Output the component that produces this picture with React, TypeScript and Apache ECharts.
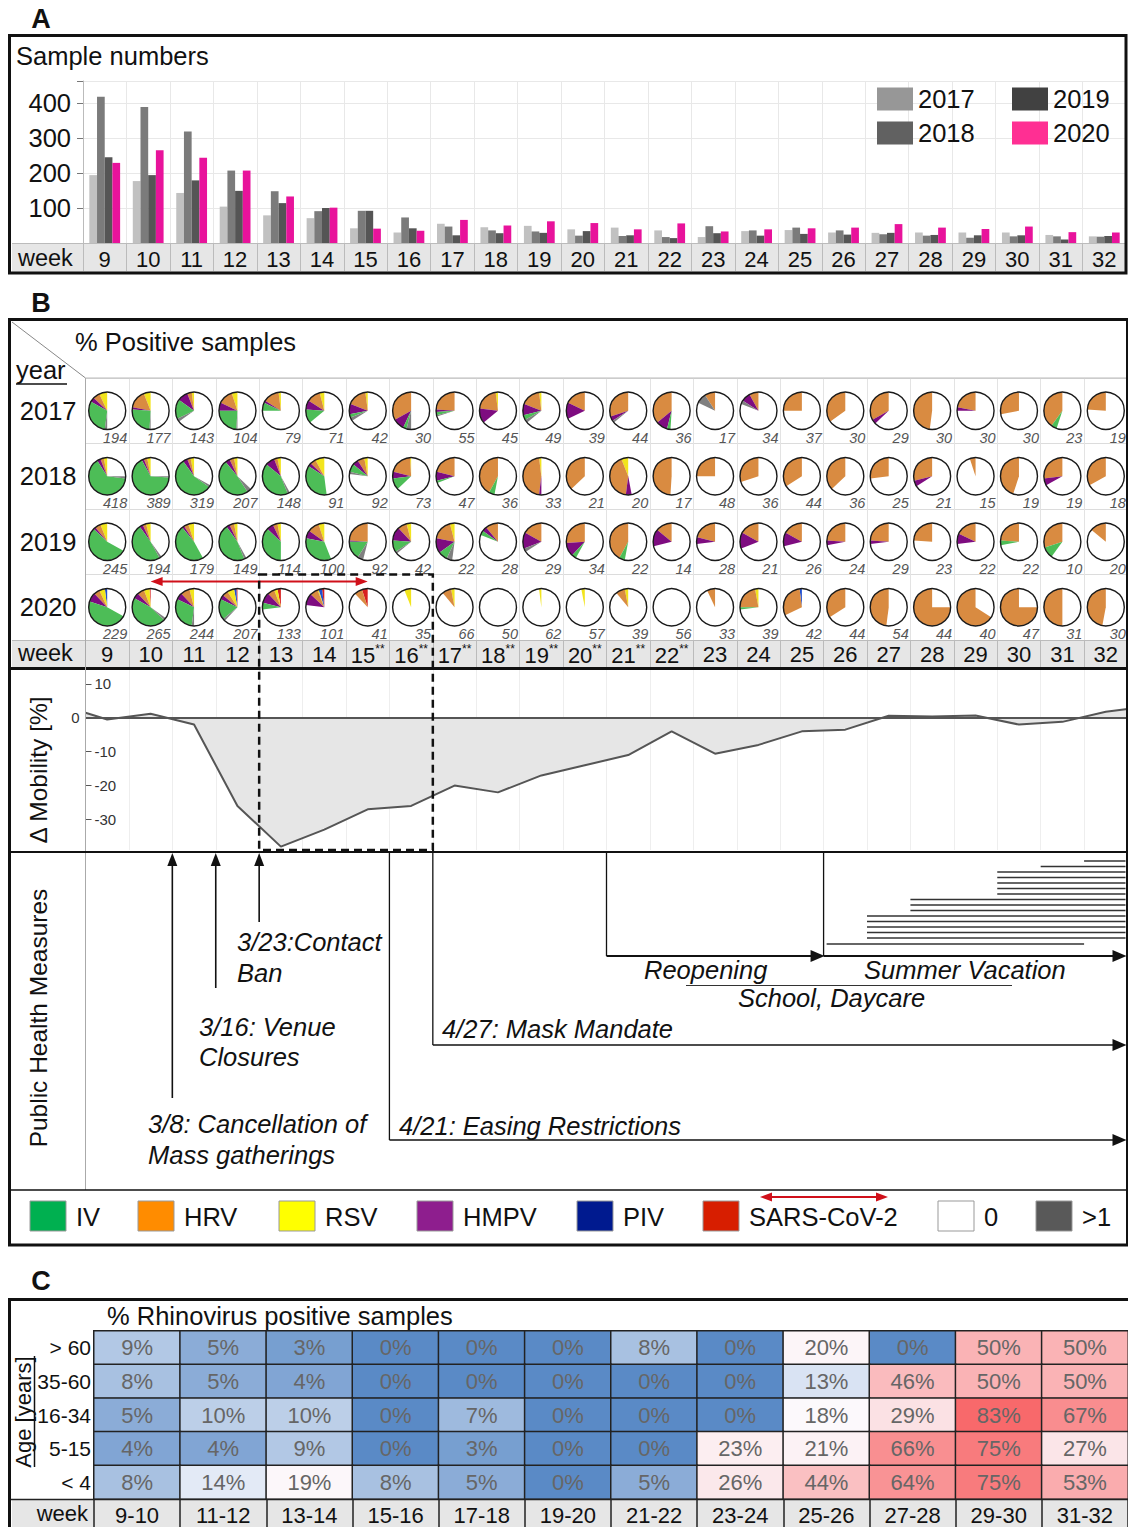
import React, { useEffect, useRef } from "react";
import * as echarts from "echarts";

const FONT = '"Liberation Sans", Arial, Helvetica, sans-serif';
const FONT_NARROW = '"Liberation Sans Narrow", "Liberation Sans", Arial, sans-serif';

// ---------- Panel A / B : weeks, years, sample numbers ----------
const WEEKS = ["9", "10", "11", "12", "13", "14", "15", "16", "17", "18", "19", "20", "21", "22", "23", "24", "25", "26", "27", "28", "29", "30", "31", "32"];
const STARRED_WEEKS = ["15", "16", "17", "18", "19", "20", "21", "22"];
const YEARS = ["2017", "2018", "2019", "2020"];

const SAMPLES_2017 = [194, 177, 143, 104, 79, 71, 42, 30, 55, 45, 49, 39, 44, 36, 17, 34, 37, 30, 29, 30, 30, 30, 23, 19];
const SAMPLES_2018 = [418, 389, 319, 207, 148, 91, 92, 73, 47, 36, 33, 21, 20, 17, 48, 36, 44, 36, 25, 21, 15, 19, 19, 18];
const SAMPLES_2019 = [245, 194, 179, 149, 114, 100, 92, 42, 22, 28, 29, 34, 22, 14, 28, 21, 26, 24, 29, 23, 22, 22, 10, 20];
const SAMPLES_2020 = [229, 265, 244, 207, 133, 101, 41, 35, 66, 50, 62, 57, 39, 56, 33, 39, 42, 44, 54, 44, 40, 47, 31, 30];
const SAMPLES = [SAMPLES_2017, SAMPLES_2018, SAMPLES_2019, SAMPLES_2020];

const BAR_COLORS = ["#c1c1c1", "#7b7b7b", "#555555", "#e8139b"];
const BAR_LEGEND_COLORS = ["#979797", "#616161", "#414141", "#ff2f93"];

// ---------- Panel B : % positive per pathogen (rows: 2017, 2018, 2019, 2020) ----------
const SHARE_SARS = [
  [0, 0, 0, 0, 0, 0, 0, 0, 0, 0, 0, 0, 0, 0, 0, 0, 0, 0, 0, 0, 0, 0, 0, 0],
  [0, 0, 0, 0, 0, 0, 0, 0, 0, 0, 0, 0, 0, 0, 0, 0, 0, 0, 0, 0, 0, 0, 0, 0],
  [0, 0, 0, 0, 0, 0, 0, 0, 0, 0, 0, 0, 0, 0, 0, 0, 0, 0, 0, 0, 0, 0, 0, 0],
  [0, 1, 0, 1, 3, 2, 5, 0, 0, 0, 0, 0, 0, 0, 0, 0, 0, 0, 0, 0, 0, 0, 0, 0],
];
const SHARE_PIV = [
  [0, 0, 0, 0, 0, 0, 0, 0, 0, 0, 0, 0, 0, 0, 0, 0, 0, 0, 0, 0, 0, 0, 0, 0],
  [0, 0, 0, 0, 0, 0, 0, 0, 0, 0, 0, 0, 0, 0, 0, 0, 0, 0, 0, 0, 0, 0, 0, 0],
  [0, 0, 0, 0, 0, 0, 0, 0, 0, 0, 0, 0, 0, 0, 0, 0, 0, 0, 0, 0, 0, 0, 0, 0],
  [2, 0, 0, 2, 0, 3, 0, 0, 0, 0, 0, 0, 0, 0, 0, 0, 2, 0, 0, 0, 0, 0, 0, 0],
];
const SHARE_RSV = [
  [7, 6, 2, 5, 2, 4, 2, 0, 0, 2, 2, 0, 0, 0, 0, 0, 0, 0, 0, 0, 0, 0, 0, 0],
  [3, 3, 3, 3, 3, 8, 3, 1, 0, 0, 2, 0, 6, 0, 0, 0, 0, 0, 0, 0, 0, 0, 0, 0],
  [6, 4, 5, 3, 3, 5, 0, 4, 4, 0, 0, 0, 0, 0, 0, 0, 0, 0, 0, 0, 0, 0, 0, 0],
  [5, 5, 4, 6, 3, 1, 0, 6, 3, 0, 2, 3, 3, 0, 0, 3, 0, 0, 0, 0, 0, 0, 0, 0],
];
const SHARE_HRV = [
  [6, 16, 4, 13, 14, 12, 17, 33, 24, 21, 17, 18, 30, 36, 9, 8, 25, 35, 33, 48, 22, 28, 40, 24],
  [3, 3, 3, 4, 3, 5, 6, 20, 21, 42, 46, 37, 42, 49, 25, 30, 34, 37, 27, 29, 5, 45, 27, 33],
  [5, 3, 4, 4, 4, 10, 24, 8, 18, 11, 17, 26, 42, 14, 21, 17, 17, 24, 24, 24, 18, 24, 30, 14],
  [5, 6, 8, 5, 6, 7, 7, 0, 8, 0, 0, 0, 8, 0, 7, 22, 30, 34, 48, 75, 66, 75, 50, 47],
];
const SHARE_HMPV = [
  [4, 2, 9, 7, 2, 8, 9, 10, 2, 13, 10, 14, 4, 10, 0, 8, 0, 0, 4, 0, 3, 0, 0, 0],
  [3, 2, 4, 4, 8, 3, 5, 6, 8, 0, 2, 0, 5, 0, 0, 0, 0, 0, 0, 5, 0, 0, 6, 0],
  [2, 3, 2, 3, 6, 7, 1, 12, 13, 4, 14, 12, 0, 15, 6, 14, 12, 4, 3, 0, 9, 0, 0, 0],
  [8, 5, 6, 4, 9, 10, 0, 0, 0, 0, 0, 0, 0, 0, 0, 0, 0, 0, 0, 0, 0, 0, 0, 0],
];
const SHARE_IV = [
  [31, 25, 17, 24, 7, 12, 3, 3, 3, 0, 4, 0, 0, 3, 0, 0, 0, 0, 0, 0, 0, 0, 5, 0],
  [64, 66, 55, 48, 42, 36, 7, 10, 2, 5, 0, 0, 0, 0, 0, 0, 0, 0, 0, 0, 0, 0, 0, 0],
  [54, 48, 47, 46, 37, 34, 16, 10, 8, 4, 0, 4, 5, 0, 0, 0, 0, 0, 0, 0, 0, 4, 10, 0],
  [47, 46, 30, 18, 6, 0, 0, 0, 0, 0, 0, 0, 0, 0, 0, 2, 0, 0, 0, 0, 0, 0, 0, 0],
];
const SHARE_MULTI = [
  [2, 1, 3, 1, 0, 0, 3, 4, 1, 0, 3, 0, 2, 0, 9, 3, 0, 0, 0, 0, 0, 0, 0, 0],
  [2, 1, 2, 4, 2, 0, 2, 0, 0, 0, 0, 0, 0, 0, 0, 0, 0, 0, 0, 0, 0, 0, 0, 0],
  [0, 2, 0, 2, 0, 0, 5, 2, 5, 0, 3, 0, 0, 0, 0, 0, 0, 0, 0, 0, 0, 0, 0, 0],
  [0, 2, 2, 2, 0, 0, 0, 0, 0, 0, 0, 0, 0, 0, 0, 0, 0, 0, 0, 0, 0, 0, 0, 0],
];

// order of slices, counter-clockwise from 12 o'clock
const PIE_ORDER = [
  { name: "SARS-CoV-2", color: "#d82020", share: SHARE_SARS },
  { name: "PIV", color: "#1f4fd0", share: SHARE_PIV },
  { name: "RSV", color: "#f2e41c", share: SHARE_RSV },
  { name: "HRV", color: "#d98b41", share: SHARE_HRV },
  { name: "HMPV", color: "#7e0c80", share: SHARE_HMPV },
  { name: "IV", color: "#4dbd57", share: SHARE_IV },
  { name: ">1", color: "#808080", share: SHARE_MULTI },
];

const LEGEND_NAMES = ["IV", "HRV", "RSV", "HMPV", "PIV", "SARS-CoV-2", "0", ">1"];
const LEGEND_COLORS = ["#00b050", "#ff8c00", "#ffff00", "#8e1e8e", "#001a8f", "#d71e00", "#ffffff", "#595959"];
const LEGEND_X = [30, 138, 279, 417, 577, 703, 938, 1036];

// ---------- Mobility ----------
const MOBILITY_WEEK = [8.5, 9, 10, 11, 12, 13, 14, 15, 16, 17, 18, 19, 20, 21, 22, 23, 24, 25, 26, 27, 28, 29, 30, 31, 32, 32.5];
const MOBILITY_CHANGE = [1.5, -0.5, 1.2, -2, -26, -38, -33, -27, -26, -20, -22, -17, -14, -11, -4, -10.6, -8, -4, -3.5, 0.6, 0.4, 0.7, -2, -1.2, 1.8, 2.6];

// ---------- Public health measures (in week units) ----------
const EVENT_CANCELLATION = 10.5;
const EVENT_VENUES = 11.5;
const EVENT_CONTACT = 12.5;
const EVENT_EASING = 15.5;
const EVENT_MASK = 16.5;
const EVENT_REOPENING = 20.5;
const EVENT_SUMMER = 25.5;
const EVENT_END = 32.5;
const VACATION_START = [31.5, 30.5, 29.5, 29.5, 29.5, 29.5, 29.5, 27.5, 27.5, 27.5, 26.5, 26.5, 26.5, 26.5, 26.5, 25.57];
const VACATION_END = [32.5, 32.5, 32.5, 32.5, 32.5, 32.5, 32.5, 32.5, 32.5, 32.5, 32.5, 32.5, 32.5, 32.5, 32.5, 31.5];

// ---------- Panel C ----------
const WEEK_PAIRS = ["9-10", "11-12", "13-14", "15-16", "17-18", "19-20", "21-22", "23-24", "25-26", "27-28", "29-30", "31-32"];
const AGE_GROUPS = ["> 60", "35-60", "16-34", "5-15", "< 4"];
const HRV_AGE_GT60 = [9, 5, 3, 0, 0, 0, 8, 0, 20, 0, 50, 50];
const HRV_AGE_35_60 = [8, 5, 4, 0, 0, 0, 0, 0, 13, 46, 50, 50];
const HRV_AGE_16_34 = [5, 10, 10, 0, 7, 0, 0, 0, 18, 29, 83, 67];
const HRV_AGE_5_15 = [4, 4, 9, 0, 3, 0, 0, 23, 21, 66, 75, 27];
const HRV_AGE_LT4 = [8, 14, 19, 8, 5, 0, 5, 26, 44, 64, 75, 53];
const HRV_BY_AGE = [HRV_AGE_GT60, HRV_AGE_35_60, HRV_AGE_16_34, HRV_AGE_5_15, HRV_AGE_LT4];
const HEAT_COLORS = ["#5a8ac6", "#fcfcff", "#fbd8db", "#fab3b5", "#f98e90", "#f8696b"];

// ---------- layout ----------
const A_GRID = { left: 83, top: 81, width: 1043, height: 162 };
const B_GRID = { left: 85.5, top: 378, width: 1042, height: 262 };
const M_GRID = { left: 85.5, top: 670, width: 1042, height: 180 };
const C_GRID = { left: 94, top: 1331, width: 1037, height: 168 };
const PIE_R = 18.5;

function buildOption(): any {
  const barSeries = YEARS.map((y, i) => ({
    name: y,
    type: "bar",
    xAxisIndex: 0,
    yAxisIndex: 0,
    data: SAMPLES[i],
    barWidth: 7.7,
    barGap: "0%",
    itemStyle: { color: BAR_COLORS[i] },
  }));

  const pieData: number[][] = [];
  for (let yi = 0; yi < YEARS.length; yi++) {
    for (let wi = 0; wi < WEEKS.length; wi++) {
      pieData.push([wi, yi, SAMPLES[yi][wi], ...PIE_ORDER.map((v) => v.share[yi][wi])]);
    }
  }

  const heatData: number[][] = [];
  HRV_BY_AGE.forEach((row, r) => row.forEach((v, c) => heatData.push([c, r, v])));

  const pieSeries = {
    type: "custom",
    xAxisIndex: 1,
    yAxisIndex: 1,
    encode: { x: 0, y: 1 },
    data: pieData,
    renderItem: (params: any, api: any) => {
      const c = api.coord([api.value(0), api.value(1)]);
      const cx = c[0];
      const cy = c[1];
      const children: any[] = [
        { type: "circle", shape: { cx, cy, r: PIE_R }, style: { fill: "#ffffff" } },
      ];
      let cum = 0;
      PIE_ORDER.forEach((v, k) => {
        const f = api.value(3 + k) / 100;
        if (f > 0) {
          const a1 = -Math.PI / 2 - cum * 2 * Math.PI;
          const a0 = -Math.PI / 2 - (cum + f) * 2 * Math.PI;
          children.push({
            type: "sector",
            shape: { cx, cy, r: PIE_R, r0: 0, startAngle: a0, endAngle: a1, clockwise: true },
            style: { fill: v.color },
          });
          cum += f;
        }
      });
      children.push({
        type: "circle",
        shape: { cx, cy, r: PIE_R },
        style: { fill: "none", stroke: "#1a1a1a", lineWidth: 1.4 },
      });
      children.push({
        type: "text",
        style: {
          text: String(api.value(2)),
          x: cx + 20,
          y: cy + 27,
          align: "right",
          verticalAlign: "middle",
          fontSize: 14.5,
          fontStyle: "italic",
          fontFamily: FONT,
          fill: "#555555",
        },
      });
      return { type: "group", children };
    },
  };

  const legendCommon = {
    orient: "vertical",
    top: 81,
    padding: 5,
    itemWidth: 36,
    itemHeight: 23,
    itemGap: 8,
    icon: "rect",
    selectedMode: false,
    textStyle: { fontSize: 25.5, color: "#111", fontFamily: FONT },
  };

  return {
    animation: false,
    textStyle: { fontFamily: FONT },
    grid: [
      { ...A_GRID, containLabel: false },
      { ...B_GRID, containLabel: false },
      { ...M_GRID, containLabel: false },
      { ...C_GRID, containLabel: false },
    ],
    legend: [
      {
        ...legendCommon,
        left: 872,
        data: [
          { name: "2017", itemStyle: { color: BAR_LEGEND_COLORS[0] } },
          { name: "2018", itemStyle: { color: BAR_LEGEND_COLORS[1] } },
        ],
      },
      {
        ...legendCommon,
        left: 1007,
        data: [
          { name: "2019", itemStyle: { color: BAR_LEGEND_COLORS[2] } },
          { name: "2020", itemStyle: { color: BAR_LEGEND_COLORS[3] } },
        ],
      },
    ],
    xAxis: [
      {
        gridIndex: 0,
        type: "category",
        data: WEEKS,
        axisLine: { lineStyle: { color: "#bbbbbb" } },
        axisTick: { show: true, length: 28, interval: 0, lineStyle: { color: "#bbbbbb" } },
        axisLabel: { interval: 0, fontSize: 22, color: "#111", margin: 5, fontFamily: FONT },
        splitLine: { show: true, interval: 0, lineStyle: { color: "#e8e8e8" } },
      },
      {
        gridIndex: 1,
        type: "category",
        data: WEEKS,
        axisLine: { lineStyle: { color: "#bbbbbb" } },
        axisTick: { show: true, length: 27, interval: 0, lineStyle: { color: "#bbbbbb" } },
        axisLabel: {
          interval: 0,
          margin: 3,
          formatter: (v: string) => (STARRED_WEEKS.includes(v) ? `{n|${v}}{s|**}` : `{n|${v}}`),
          rich: {
            n: { fontSize: 22, color: "#111", fontFamily: FONT },
            s: { fontSize: 12, color: "#111", fontFamily: FONT, padding: [0, 0, 12, 0] },
          },
        },
        splitLine: { show: true, interval: 0, lineStyle: { color: "#e3e3e3" } },
      },
      {
        gridIndex: 2,
        type: "category",
        data: WEEKS,
        axisLine: { show: false },
        axisTick: { show: false },
        axisLabel: { show: false },
        splitLine: { show: true, interval: 0, lineStyle: { color: "#eeeeee" } },
      },
      { gridIndex: 2, type: "value", min: 8.5, max: 32.5, show: false },
      {
        gridIndex: 3,
        type: "category",
        data: WEEK_PAIRS,
        axisLine: { lineStyle: { color: "#222", width: 1.5 } },
        axisTick: { show: true, length: 28, interval: 0, lineStyle: { color: "#222", width: 1.5 } },
        axisLabel: { interval: 0, fontSize: 22, color: "#111", margin: 5, fontFamily: FONT },
        splitLine: { show: false },
      },
    ],
    yAxis: [
      {
        gridIndex: 0,
        type: "value",
        min: 0,
        max: 463,
        interval: 100,
        axisLine: { show: true, lineStyle: { color: "#bbbbbb" } },
        axisTick: { show: true, length: 6, lineStyle: { color: "#777" } },
        axisLabel: {
          fontSize: 25.5,
          color: "#111",
          margin: 12,
          fontFamily: FONT,
          formatter: (v: number) => (v > 0 && v % 100 === 0 ? String(v) : ""),
        },
        splitLine: { show: true, lineStyle: { color: "#e8e8e8" } },
      },
      {
        gridIndex: 1,
        type: "category",
        data: YEARS,
        inverse: true,
        axisLine: { show: false },
        axisTick: { show: false },
        axisLabel: { fontSize: 25.5, color: "#111", margin: 9, fontFamily: FONT },
        splitLine: { show: true, interval: 0, lineStyle: { color: "#dcdcdc" } },
      },
      {
        gridIndex: 2,
        type: "value",
        position: "left",
        min: -39,
        max: 14.1,
        axisLine: { show: false },
        axisTick: { show: true, inside: true, length: 6, customValues: [-30, -20, -10, 10], lineStyle: { color: "#555" } },
        axisLabel: { inside: true, customValues: [-30, -20, -10, 10], fontSize: 15, color: "#333", margin: 9, fontFamily: FONT_NARROW },
        splitLine: { show: false },
      },
      {
        gridIndex: 2,
        type: "value",
        position: "left",
        offset: 0,
        min: -39,
        max: 14.1,
        axisLine: { show: false },
        axisTick: { show: false },
        axisLabel: { customValues: [0], fontSize: 15, color: "#333", margin: 6, fontFamily: FONT_NARROW },
        splitLine: { show: false },
      },
      {
        gridIndex: 3,
        type: "category",
        data: AGE_GROUPS,
        inverse: true,
        axisLine: { show: true, lineStyle: { color: "#222", width: 1.5 } },
        axisTick: { show: false },
        axisLabel: { fontSize: 21, color: "#111", margin: 3, fontFamily: FONT },
        splitLine: { show: false },
      },
    ],
    visualMap: [
      {
        type: "continuous",
        show: false,
        seriesIndex: 6,
        dimension: 2,
        min: 0,
        max: 83,
        inRange: { color: HEAT_COLORS },
      },
    ],
    series: [
      ...barSeries,
      pieSeries,
      {
        type: "line",
        xAxisIndex: 3,
        yAxisIndex: 2,
        data: MOBILITY_WEEK.map((w, i) => [w, MOBILITY_CHANGE[i]]),
        symbol: "none",
        lineStyle: { color: "#555", width: 2 },
        areaStyle: { color: "#e6e6e6", opacity: 1, origin: "auto" },
        markLine: {
          silent: true,
          symbol: ["none", "none"],
          label: { show: false },
          lineStyle: { color: "#555", width: 2, type: "solid" },
          data: [{ yAxis: 0 }],
        },
      },
      {
        type: "heatmap",
        xAxisIndex: 4,
        yAxisIndex: 4,
        data: heatData,
        itemStyle: { borderColor: "#222", borderWidth: 1.5 },
        label: {
          show: true,
          formatter: (p: any) => p.value[2] + "%",
          fontSize: 22,
          color: "#666",
          fontFamily: FONT,
        },
        emphasis: { disabled: true },
      },
    ],
  };
}

function buildGraphics(gx: (w: number) => number, px: (i: number) => number): any[] {
  const els: any[] = [];
  const T = (text: string, x: number, y: number, o: any = {}) =>
    els.push({
      type: "text",
      x,
      y,
      rotation: o.rotation || 0,
      z: o.z ?? 20,
      silent: true,
      style: {
        text,
        fill: o.fill || "#111",
        fontSize: o.size || 25.5,
        fontFamily: o.family || FONT,
        fontStyle: o.italic ? "italic" : "normal",
        fontWeight: o.bold ? "bold" : "normal",
        align: o.align || "left",
        verticalAlign: "middle",
      },
    });
  const L = (x1: number, y1: number, x2: number, y2: number, stroke = "#111", w = 1.5, dash?: number[], z = 20) => {
    const style: any = { stroke, lineWidth: w };
    if (dash) style.lineDash = dash;
    els.push({ type: "line", z, silent: true, shape: { x1, y1, x2, y2 }, style });
  };
  const R = (x: number, y: number, w: number, h: number, style: any, z = 20) =>
    els.push({ type: "rect", z, silent: true, shape: { x, y, width: w, height: h }, style });
  const P = (points: number[][], fill: string) =>
    els.push({ type: "polygon", z: 21, silent: true, shape: { points }, style: { fill } });
  const arrowUp = (x: number, yTip: number) => P([[x, yTip], [x - 5, yTip + 13], [x + 5, yTip + 13]], "#111");
  const arrowRight = (xTip: number, y: number, color = "#111") => P([[xTip, y], [xTip - 14, y - 6], [xTip - 14, y + 6]], color);
  const arrowLeft = (xTip: number, y: number, color = "#111") => P([[xTip, y], [xTip + 12, y - 4.5], [xTip + 12, y + 4.5]], color);
  const border = { fill: "none", stroke: "#111", lineWidth: 3 };

  // letters
  T("A", 41, 19, { size: 27, bold: true, align: "center" });
  T("B", 41, 303, { size: 27, bold: true, align: "center" });
  T("C", 41, 1281, { size: 27, bold: true, align: "center" });

  // ---- Panel A ----
  R(12, 243.5, 1113, 28.5, { fill: "#e6e6e6" }, -1);
  L(12, 243.5, 83, 243.5, "#bbbbbb", 1);
  T("Sample numbers", 16, 56);
  T("week", 18, 258, { size: 23.5 });
  R(9.5, 35.5, 1116.5, 237.5, border, 40);

  // ---- Panel B ----
  R(9.5, 319.5, 1118, 925.5, border, 40);
  L(12, 322, 85.5, 378, "#888", 1);
  L(85.5, 378, 1128, 378, "#bbbbbb", 1);
  T("% Positive samples", 75, 342);
  T("year", 16, 370);
  L(16, 384, 67, 384, "#111", 1.5);
  R(12, 640.5, 1116, 27.5, { fill: "#e6e6e6" }, -1);
  L(12, 640.5, 85.5, 640.5, "#bbbbbb", 1);
  T("week", 18, 653, { size: 23.5 });
  L(9.5, 668.5, 1128, 668.5, "#111", 3);
  L(85.5, 378, 85.5, 1190, "#aaaaaa", 1);
  T("Δ Mobility [%]", 38, 770, { size: 24.5, rotation: Math.PI / 2, align: "center" });
  L(9.5, 852, 1128, 852, "#111", 2);

  // dashed box around weeks 13-16 (2020 row down to mobility)
  const rowH = B_GRID.height / YEARS.length;
  const boxTop = B_GRID.top + 3 * rowH;
  const bx1 = gx(12.5);
  const bx2 = gx(16.5);
  R(bx1, boxTop, bx2 - bx1, 850 - boxTop, { fill: "none", stroke: "#111", lineWidth: 2.5, lineDash: [8, 5] }, 30);

  // red double arrow (2020, weeks 10-15)
  const ra = px(1);
  const rb = px(6);
  const ry = boxTop + 7;
  L(ra + 8, ry, rb - 8, ry, "#d0101a", 2);
  arrowLeft(ra, ry, "#d0101a");
  P([[rb, ry], [rb - 12, ry - 4.5], [rb - 12, ry + 4.5]], "#d0101a");

  // ---- Public health measures ----
  T("Public Health Measures", 38, 1018, { size: 24.5, rotation: Math.PI / 2, align: "center" });
  const xCancel = gx(EVENT_CANCELLATION);
  const xVenue = gx(EVENT_VENUES);
  const xContact = gx(EVENT_CONTACT);
  const xEasing = gx(EVENT_EASING);
  const xMask = gx(EVENT_MASK);
  const xReopen = gx(EVENT_REOPENING);
  const xSummer = gx(EVENT_SUMMER);
  const xEnd = gx(EVENT_END) - 1;

  L(xCancel, 1098, xCancel, 862, "#111", 1.6);
  arrowUp(xCancel, 853);
  L(xVenue, 988, xVenue, 862, "#111", 1.6);
  arrowUp(xVenue, 853);
  L(xContact, 922, xContact, 862, "#111", 1.6);
  arrowUp(xContact, 853);

  L(xEasing, 852, xEasing, 1140, "#111", 1.3);
  L(xEasing, 1140, xEnd - 12, 1140, "#111", 1.6);
  arrowRight(xEnd, 1140);

  L(xMask, 852, xMask, 1045, "#111", 1.3);
  L(xMask, 1045, xEnd - 12, 1045, "#111", 1.6);
  arrowRight(xEnd, 1045);

  L(xReopen, 852, xReopen, 956, "#111", 1.3);
  L(xReopen, 956, xSummer - 12, 956, "#111", 2);
  arrowRight(xSummer + 1, 956);
  L(xSummer, 852, xSummer, 956, "#111", 1.3);
  L(xSummer, 956, xEnd - 12, 956, "#111", 2);
  arrowRight(xEnd, 956);

  const lastV = VACATION_START.length - 1;
  VACATION_START.forEach((s, i) => {
    const y = i === lastV ? 944 : 861 + i * 5.5;
    L(gx(s), y, gx(VACATION_END[i]) - (i === lastV ? 0 : 2), y, "#333", 1.6);
  });

  const it = { italic: true, size: 25.5 };
  T("3/23:Contact", 237, 942, it);
  T("Ban", 237, 973, it);
  T("3/16: Venue", 199, 1027, it);
  T("Closures", 199, 1057, it);
  T("3/8: Cancellation of", 148, 1124, it);
  T("Mass gatherings", 148, 1155, it);
  T("4/27: Mask Mandate", 442, 1029, it);
  T("4/21: Easing Restrictions", 399, 1126, it);
  T("Reopening", 644, 970, it);
  T("Summer Vacation", 864, 970, it);
  L(686, 985.5, 1012, 985.5, "#333", 1.2);
  T("School, Daycare", 738, 998, it);

  L(9.5, 1190, 1128, 1190, "#111", 1.5);

  // legend of pathogens
  LEGEND_NAMES.forEach((n, i) => {
    const x = LEGEND_X[i];
    R(x, 1201, 36, 30, { fill: LEGEND_COLORS[i], stroke: "#999", lineWidth: 1 });
    T(n, x + 46, 1217);
  });
  L(768, 1197, 880, 1197, "#d0101a", 2);
  arrowLeft(760, 1197, "#d0101a");
  P([[888, 1197], [876, 1192.5], [876, 1201.5]], "#d0101a");

  // ---- Panel C ----
  R(9.5, 1299.5, 1122, 240, border, 40);
  T("% Rhinovirus positive samples", 107, 1316);
  T("Age [years]", 23, 1412, { size: 22, rotation: Math.PI / 2, align: "center" });
  L(34.5, 1356, 34.5, 1467, "#111", 1.5);
  R(12, 1499, 1120, 28, { fill: "#e6e6e6" }, -1);
  L(9.5, 1499.5, 1128, 1499.5, "#222", 1.5);
  T("week", 88, 1513, { size: 22, align: "right" });

  return els;
}

export default function App() {
  const ref = useRef<HTMLDivElement>(null);
  useEffect(() => {
    document.body.style.margin = "0";
    const chart = echarts.init(ref.current as HTMLDivElement, null, { renderer: "svg", width: 1128, height: 1527 });
    chart.setOption(buildOption());
    const gx = (w: number) => chart.convertToPixel({ xAxisIndex: 3 }, w) as unknown as number;
    const px = (i: number) => chart.convertToPixel({ xAxisIndex: 1 }, i) as unknown as number;
    chart.setOption({ graphic: { elements: buildGraphics(gx, px) } });
    return () => chart.dispose();
  }, []);
  return <div ref={ref} style={{ width: 1128, height: 1527 }} />;
}
